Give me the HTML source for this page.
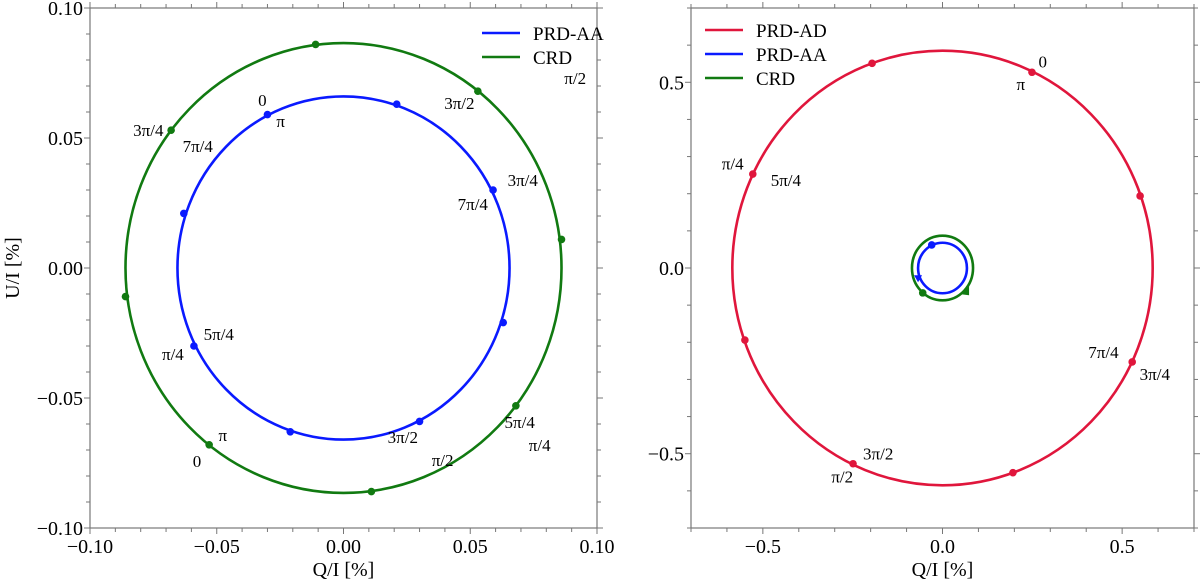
<!DOCTYPE html>
<html><head><meta charset="utf-8">
<style>
html,body{margin:0;padding:0;background:#fff;}
svg{display:block;font-family:"Liberation Serif","DejaVu Serif",serif;}
</style></head>
<body>
<svg id="chart" width="1200" height="579" viewBox="0 0 1200 579" xmlns="http://www.w3.org/2000/svg"></svg>
<script>
// ---------- data ----------
// Left panel
const leftBlueRadius = [0.0655, 0.066];   // rx, ry
const leftGreenRadius = [0.086, 0.0865];
const leftBlueQ = [-0.030, 0.021, 0.059, 0.063, 0.030, -0.021, -0.059, -0.063];
const leftBlueU = [0.059, 0.063, 0.030, -0.021, -0.059, -0.063, -0.030, 0.021];
const leftGreenQ = [-0.011, 0.053, 0.086, 0.068, 0.011, -0.053, -0.086, -0.068];
const leftGreenU = [0.086, 0.068, 0.011, -0.053, -0.086, -0.068, -0.011, 0.053];
const leftLabelText = ["3π/4","0","π","7π/4","π/2","3π/2","3π/4","7π/4","5π/4","π/4","3π/2","π/2","5π/4","π/4","π","0"];
const leftLabelQ = [-0.0770,-0.0320,-0.0248,-0.0575,0.0914,0.0457,0.0707,0.0510,-0.0492,-0.0673,0.0234,0.0391,0.0695,0.0774,-0.0476,-0.0578];
const leftLabelU = [0.0531,0.0646,0.0565,0.0469,0.0731,0.0635,0.0338,0.0246,-0.0254,-0.0331,-0.0650,-0.0738,-0.0592,-0.0681,-0.0642,-0.0742];
const leftTicks = [-0.10,-0.05,0.00,0.05,0.10];
const leftTickLabels = ["−0.10","−0.05","0.00","0.05","0.10"];
// Right panel
const rightRedRadius = [0.585, 0.585];
const rightBlueRadius = [0.068, 0.068];
const rightGreenRadius = [0.085, 0.087];
const rightRedQ = [0.249, 0.550, 0.528, 0.196, -0.249, -0.550, -0.528, -0.196];
const rightRedU = [0.527, 0.194, -0.253, -0.551, -0.527, -0.194, 0.253, 0.551];
const rightBlueDotQ = [-0.030], rightBlueDotU = [0.062];
const rightGreenDotQ = [-0.055], rightGreenDotU = [-0.067];
const rightLabelText = ["0","π","π/4","5π/4","7π/4","3π/4","3π/2","π/2"];
const rightLabelQ = [0.279,0.218,-0.584,-0.436,0.448,0.591,-0.179,-0.279];
const rightLabelU = [0.556,0.495,0.282,0.237,-0.226,-0.285,-0.500,-0.562];
const rightTicks = [-0.5, 0.0, 0.5];
const rightTickLabels = ["−0.5","0.0","0.5"];

// ---------- helpers ----------
const NS = "http://www.w3.org/2000/svg";
const svg = document.getElementById("chart");
function mk(tag, attrs, parent){const e=document.createElementNS(NS,tag);for(const k in attrs)e.setAttribute(k,attrs[k]);(parent||svg).appendChild(e);return e;}
function panel(name, x0, x1, y0, y1, xmin, xmax, ymin, ymax){
  const g = mk("g",{});
  
  
  return {g, sx:v=>x0+(v-xmin)/(xmax-xmin)*(x1-x0), sy:v=>y1-(v-ymin)/(ymax-ymin)*(y1-y0), x0,x1,y0,y1,xmin,xmax,ymin,ymax, kx:(x1-x0)/(xmax-xmin), ky:(y1-y0)/(ymax-ymin)};
}
function axes(p, major, labels, minorStep, yLabel, xLabel){
  const f = mk("rect",{x:p.x0,y:p.y0,width:p.x1-p.x0,height:p.y1-p.y0,fill:"none",stroke:"#777","stroke-width":1.2},p.g);
  
  
  const n = Math.round((p.xmax-p.xmin)/minorStep);
  for(let i=0;i<=n;i++){
    const v=p.xmin+i*minorStep;
    const isMaj = major.some(m=>Math.abs(m-v)<1e-9);
    const L = isMaj?6:4;
    const x=p.sx(v);
    mk("line",{x1:x,x2:x,y1:p.y1,y2:p.y1+L,stroke:"#777","stroke-width":1},p.g);
    mk("line",{x1:x,x2:x,y1:p.y0,y2:p.y0-L,stroke:"#777","stroke-width":1},p.g);
  }
  const ny = Math.round((p.ymax-p.ymin)/minorStep);
  for(let i=0;i<=ny;i++){
    const v=p.ymin+i*minorStep;
    const isMaj = major.some(m=>Math.abs(m-v)<1e-9);
    const L = isMaj?6:4;
    const y=p.sy(v);
    mk("line",{x1:p.x0,x2:p.x0-L,y1:y,y2:y,stroke:"#777","stroke-width":1},p.g);
    mk("line",{x1:p.x1,x2:p.x1+L,y1:y,y2:y,stroke:"#777","stroke-width":1},p.g);
  }
  major.forEach((v,i)=>{
    const tx = mk("text",{x:p.sx(v),y:p.y1+25,"text-anchor":"middle","font-size":20,fill:"#000"},p.g);
    tx.textContent=labels[i];
    
    
    const ty = mk("text",{x:p.x0-7,y:p.sy(v)+7,"text-anchor":"end","font-size":20,fill:"#000"},p.g);
    ty.textContent=labels[i];
    
    
  });
  const xl = mk("text",{x:(p.x0+p.x1)/2,y:576,"text-anchor":"middle","font-size":20,fill:"#000"},p.g);
  xl.textContent=xLabel;
  
  
  if(yLabel){
    const yl = mk("text",{x:0,y:0,"text-anchor":"middle","font-size":20,fill:"#000",transform:`translate(19,${(p.y0+p.y1)/2}) rotate(-90)`},p.g);
    yl.textContent=yLabel;
    
    
  }
}
function ellipse(p, r, color, name){
  const e = mk("ellipse",{cx:p.sx(0),cy:p.sy(0),rx:r[0]*p.kx,ry:r[1]*p.ky,fill:"none",stroke:color,"stroke-width":2.6},p.g);
  
  
}
function dots(p, qs, us, color, name){
  qs.forEach((q,i)=>{
    const c = mk("circle",{cx:p.sx(q),cy:p.sy(us[i]),r:3.8,fill:color},p.g);
    
    
  });
}
function labels(p, txt, qs, us){
  txt.forEach((t,i)=>{
    const e = mk("text",{x:p.sx(qs[i]),y:p.sy(us[i])+6,"text-anchor":"middle","font-size":17,fill:"#000"},p.g);
    e.textContent=t;
    
    
  });
}
function legend(p, x, y0, items){
  const g = mk("g",{},p.g);
  
  
  items.forEach((it,i)=>{
    const y=y0+i*24;
    mk("line",{x1:x,x2:x+38,y1:y,y2:y,stroke:it[1],"stroke-width":2.6},g);
    const t = mk("text",{x:x+51,y:y+7,"font-size":19,fill:"#000"},g);
    t.textContent=it[0];
    
    
  });
}
const BLUE="#0a1aff", GREEN="#117a11", RED="#e0163c";

// ---------- left panel ----------
const L = panel("left-panel", 90, 597, 8, 528, -0.10, 0.10, -0.10, 0.10);
axes(L, leftTicks, leftTickLabels, 0.01, "U/I [%]", "Q/I [%]");
ellipse(L, leftGreenRadius, GREEN, "crd-curve");
ellipse(L, leftBlueRadius, BLUE, "prd-aa-curve");
dots(L, leftGreenQ, leftGreenU, GREEN, "crd-point");
dots(L, leftBlueQ, leftBlueU, BLUE, "prd-aa-point");
labels(L, leftLabelText, leftLabelQ, leftLabelU);
legend(L, 482, 33, [["PRD-AA",BLUE],["CRD",GREEN]]);

// ---------- right panel ----------
const R = panel("right-panel", 691, 1194, 8, 528, -0.7, 0.7, -0.7, 0.7);
axes(R, rightTicks, rightTickLabels, 0.1, null, "Q/I [%]");
ellipse(R, rightRedRadius, RED, "prd-ad-curve");
ellipse(R, rightGreenRadius, GREEN, "crd-curve");
ellipse(R, rightBlueRadius, BLUE, "prd-aa-curve");
dots(R, rightRedQ, rightRedU, RED, "prd-ad-point");
dots(R, rightBlueDotQ, rightBlueDotU, BLUE, "prd-aa-point");
dots(R, rightGreenDotQ, rightGreenDotU, GREEN, "crd-point");
// direction arrows on the small loops
const a1 = mk("path",{d:`M${R.sx(-0.068)-4},${R.sy(-0.025)-2} l8,0 l-4,7 z`,fill:BLUE},R.g);


const a2 = mk("path",{d:`M${R.sx(0.06)-3},${R.sy(-0.06)+4} l8,-8 l0,9 z`,fill:GREEN},R.g);


labels(R, rightLabelText, rightLabelQ, rightLabelU);
legend(R, 705, 30, [["PRD-AD",RED],["PRD-AA",BLUE],["CRD",GREEN]]);
</script>
</body></html>
